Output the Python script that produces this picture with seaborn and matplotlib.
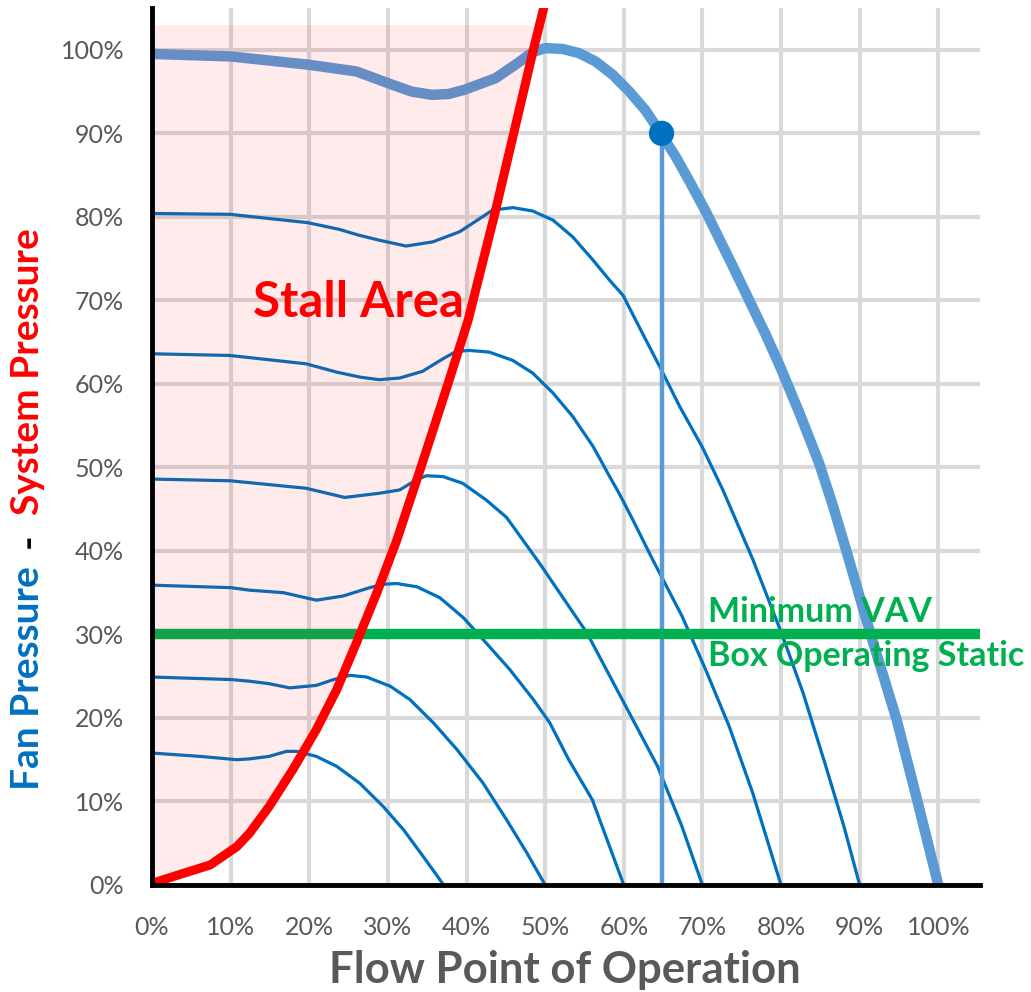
import numpy as np
import matplotlib
matplotlib.use("Agg")
import matplotlib.pyplot as plt
import seaborn as sns

# ---------- values (percent) ----------
# full-speed fan curve (thick)
fan100_x = [0, 10, 20, 26, 30.6, 33, 35.6, 37.7, 39.7, 43.7, 46.5, 48.4, 50, 52.2, 54.3, 56.4,
            58.6, 60.7, 62.8, 64.7, 66.6, 68.5, 70.5, 73.8, 78.1, 80, 82.3, 84.8, 86.6, 88.4,
            91.3, 94.7, 97.3, 100]
fan100_y = [99.5, 99.2, 98.2, 97.4, 95.8, 95.0, 94.6, 94.7, 95.2, 96.6, 98.4, 99.7, 100.2, 100.1,
            99.6, 98.6, 97, 95, 92.7, 90, 87.2, 84, 80.5, 74.2, 65.8, 61.8, 56.6, 50.6, 45.4,
            39.7, 30.3, 19.8, 10.2, 0]

# reduced-speed fan curves (thin)
fan90_x = [0, 9.9, 19.8, 23.8, 26.3, 28.9, 32.3, 35.7, 39.1, 41.7, 43.3, 45.9, 48.4, 51, 53.5,
           56.1, 58.2, 59.9, 62.4, 64.6, 67.1, 70, 72.6, 76.4, 80.2, 82.8, 85.7, 88, 90]
fan90_y = [80.4, 80.3, 79.3, 78.5, 77.8, 77.2, 76.5, 77, 78.2, 79.8, 80.8, 81.1, 80.7, 79.6, 77.6,
           74.8, 72.4, 70.6, 66, 62, 57.3, 52.4, 47.3, 39, 29.8, 23, 14.2, 7, 0]

fan80_x = [0, 9.9, 19.6, 23.5, 26.5, 28.9, 31.5, 34.4, 37, 38.7, 40.4, 42.9, 45.9, 48.4, 51,
           53.5, 56.1, 58.2, 59.4, 61, 63.7, 67.4, 70.4, 73.4, 76.4, 80]
fan80_y = [63.6, 63.4, 62.4, 61.4, 60.8, 60.5, 60.7, 61.5, 63, 63.9, 64, 63.8, 62.8, 61.3, 58.9,
           56.1, 52.5, 48.9, 46.9, 44, 38.9, 32.2, 25.8, 19, 11, 0]

fan70_x = [0, 9.9, 19.6, 24.5, 28.9, 31.5, 33.6, 34.9, 37, 39.5, 42.5, 45.1, 49.3, 55.3, 59.8,
           64.3, 67.4, 70]
fan70_y = [48.6, 48.4, 47.5, 46.4, 46.9, 47.3, 48.5, 49, 48.9, 48.1, 46.1, 44, 38.5, 30.2, 22.2,
           14.2, 7, 0]

fan60_x = [0, 10, 12.4, 16.7, 20.9, 24.3, 27.7, 29.4, 31.1, 33.7, 36.6, 39.6, 42.1, 45.5, 48.5,
           50.6, 53, 56, 60]
fan60_y = [35.9, 35.6, 35.3, 35, 34.1, 34.6, 35.6, 36, 36.1, 35.7, 34.4, 32, 29.4, 25.8, 22.2,
           19.4, 15, 10.2, 0]

fan50_x = [0, 10, 12.4, 14.9, 17.5, 20.9, 23.1, 25.2, 27.3, 30.3, 32.8, 35.8, 38.8, 42.1, 45.1,
           47.7, 50]
fan50_y = [24.9, 24.6, 24.4, 24.1, 23.6, 23.9, 24.6, 25.1, 24.9, 23.8, 22.2, 19.4, 16.2, 12.2, 7.8,
           3.8, 0]

fan37_x = [0, 6.1, 10.8, 12.4, 14.9, 17.1, 18.4, 20.9, 23.5, 26.4, 29.4, 32, 34.5, 37.1]
fan37_y = [15.8, 15.4, 15, 15.1, 15.4, 16, 16, 15.4, 14.2, 12.2, 9.4, 6.6, 3.4, 0]

# system curve (red)
system_x = [0, 4, 7.4, 10.8, 12.4, 14.9, 17.9, 20.9, 23.5, 26, 28.6, 31.1, 34.2, 37.3, 40.2,
            43.5, 46, 48.5, 50.6]
system_y = [0.2, 1.4, 2.4, 4.6, 6.2, 9.4, 13.8, 18.6, 23.4, 29, 35, 41.2, 50, 59, 67.6,
            80, 90, 100, 108]

stall_top = 103          # top of the shaded stall area
min_vav_static = 30      # minimum VAV box operating static
op_point = (64.8, 90)    # operating point on full-speed curve

ticks = list(range(0, 101, 10))
tick_labels = [f"{t}%" for t in ticks]

# ---------- colours ----------
BLUE = "#0070c0"
LIGHT_BLUE = "#5b9bd5"
RED = "#ff0000"
GREEN = "#00b050"
GREY_TXT = "#595959"
GRID = "#d9d9d9"

sns.set_style("white")
plt.rcParams["font.family"] = ["Lato", "DejaVu Sans"]

fig = plt.figure(figsize=(10.31, 9.92), dpi=100)
ax = fig.add_axes([152 / 1031, 1 - 885 / 992, (980 - 152) / 1031, (885 - 8) / 992])

# grid
ax.set_axisbelow(True)
ax.grid(True, color=GRID, linewidth=3)

# fan curves
thin = [(fan90_x, fan90_y), (fan80_x, fan80_y), (fan70_x, fan70_y),
        (fan60_x, fan60_y), (fan50_x, fan50_y), (fan37_x, fan37_y)]
for cx, cy in thin:
    sns.lineplot(x=cx, y=cy, ax=ax, color=BLUE, linewidth=2.3, sort=False,
                 estimator=None, zorder=2)
    ax.lines[-1].set_solid_joinstyle("round")

sns.lineplot(x=fan100_x, y=fan100_y, ax=ax, color=LIGHT_BLUE, linewidth=7.5, sort=False,
             estimator=None, zorder=2.2)
ax.lines[-1].set_solid_joinstyle("round")
ax.lines[-1].set_solid_capstyle("butt")

# operating point
ax.plot([op_point[0], op_point[0]], [0.4, op_point[1]], color=LIGHT_BLUE, linewidth=3.2, zorder=2.3)
sns.scatterplot(x=[op_point[0]], y=[op_point[1]], ax=ax, color=BLUE, s=330,
                edgecolor="none", zorder=2.4)

# minimum VAV static line
ax.axhline(min_vav_static, color=GREEN, linewidth=7.5, zorder=2.5)

# stall area shading
stall_x_edge = np.interp(stall_top, system_y, system_x)
sy = [v for v in system_y if v < stall_top] + [stall_top]
sx = [x for x, v in zip(system_x, system_y) if v < stall_top] + [stall_x_edge]
ax.fill_betweenx(sy, 0, sx, color=RED, alpha=0.08, linewidth=0, zorder=3)

# system curve
sns.lineplot(x=system_x, y=system_y, ax=ax, color=RED, linewidth=6.5, sort=False,
             estimator=None, zorder=4)
ax.lines[-1].set_solid_joinstyle("round")

# labels inside the plot
ax.text(12.85, 68.0, "Stall Area", color=RED, fontsize=35.5, fontweight="bold",
        va="baseline", ha="left", zorder=6)
ax.text(70.7, 31.5, "Minimum VAV", color=GREEN, fontsize=24.5, fontweight="bold",
        va="baseline", ha="left", zorder=6)
ax.text(70.7, 26.2, "Box Operating Static", color=GREEN, fontsize=24.5, fontweight="bold",
        va="baseline", ha="left", zorder=6, clip_on=False)

# axes
ax.set_xlim(0, 105.3)
ax.set_ylim(0, 105)
ax.set_xticks(ticks)
ax.set_xticklabels(tick_labels)
ax.set_yticks(ticks)
ax.set_yticklabels(tick_labels)
ax.tick_params(axis="both", length=0, labelsize=18, labelcolor=GREY_TXT)
ax.tick_params(axis="x", pad=22)
ax.tick_params(axis="y", pad=20)
ax.set_xlabel("")
ax.set_ylabel("")

for side in ["top", "right"]:
    ax.spines[side].set_visible(False)
for side in ["left", "bottom"]:
    ax.spines[side].set_color("#000000")
    ax.spines[side].set_linewidth(3.5)
    ax.spines[side].set_zorder(7)

# axis titles
fig.text(565 / 1031, 1 - 970 / 992, "Flow Point of Operation", color=GREY_TXT,
         fontsize=31.5, fontweight="bold", ha="center", va="center")
fig.text(28 / 1031, 1 - 678 / 992, "Fan Pressure", color=BLUE, fontsize=28,
         fontweight="bold", rotation=90, ha="center", va="center")
fig.text(28 / 1031, 1 - 541 / 992, "-", color="#000000", fontsize=28,
         fontweight="bold", rotation=90, ha="center", va="center")
fig.text(28 / 1031, 1 - 372 / 992, "System Pressure", color=RED, fontsize=28,
         fontweight="bold", rotation=90, ha="center", va="center")

fig.savefig("out.png", dpi=100)
